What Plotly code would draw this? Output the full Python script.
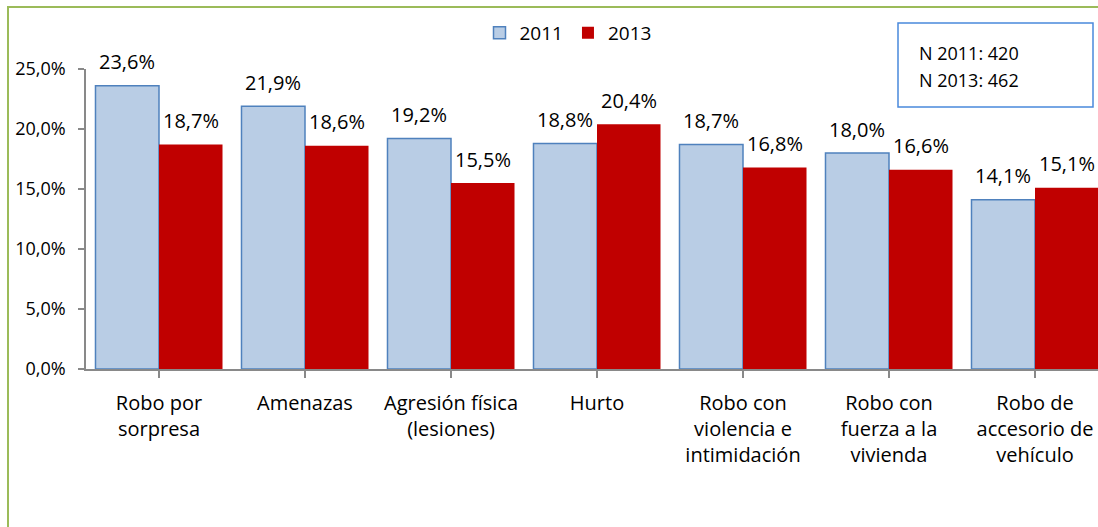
import plotly.graph_objects as go

categories = ["Robo por<br>sorpresa", "Amenazas", "Agresión física<br>(lesiones)", "Hurto",
              "Robo con<br>violencia e<br>intimidación", "Robo con<br>fuerza a la<br>vivienda",
              "Robo de<br>accesorio de<br>vehículo"]
values_2011 = [23.6, 21.9, 19.2, 18.8, 18.7, 18.0, 14.1]
values_2013 = [18.7, 18.6, 15.5, 20.4, 16.8, 16.6, 15.1]
n_text = ["N 2011: 420", "N 2013: 462"]

FONT = "Open Sans"
W, H = 1098, 527
ML, MT, MB = 86, 69, 158
PW = W - ML
PH = H - MT - MB
CAT_PX = 146  # pixel width of one category slot


def px_x(px):
    return (px - ML) / PW


def px_y(py):
    return (H - MB - py) / PH


fig = go.Figure()

fig.add_trace(go.Bar(
    x=list(range(len(categories))), y=values_2011, name="2011",
    marker=dict(color="#b9cde5", line=dict(color="#4f81bd", width=1.5)),
))
fig.add_trace(go.Bar(
    x=list(range(len(categories))), y=values_2013, name="2013",
    marker=dict(color="#c00000", line=dict(width=0)),
))

# data labels above each bar
annotations = []
for vals, shift in ((values_2011, -32), (values_2013, 32)):
    for i, v in enumerate(vals):
        annotations.append(dict(
            x=i, y=v, xref="x", yref="y", text=f"{v:.1f}".replace(".", ",") + "%",
            showarrow=False, xshift=shift, yshift=24, yanchor="middle",
            font=dict(family=FONT, size=20, color="#000000"),
        ))

# N box text
for txt, ypx in zip(n_text, (53, 80)):
    annotations.append(dict(x=px_x(917), y=px_y(ypx), xref="paper", yref="paper", text=txt,
                            showarrow=False, xanchor="left", yanchor="middle",
                            font=dict(family=FONT, size=18, color="#000000")))

shapes = [
    # outer green frame
    dict(type="rect", xref="paper", yref="paper", x0=px_x(8), x1=1.2, y0=-0.6, y1=px_y(7),
         line=dict(color="#9bbb59", width=2), fillcolor="rgba(0,0,0,0)", layer="below"),
    # N box
    dict(type="rect", xref="paper", yref="paper", x0=px_x(898), x1=px_x(1093), y0=px_y(107), y1=px_y(23),
         line=dict(color="#4a89dc", width=1.5), fillcolor="white", layer="above"),
]

fig.update_layout(
    width=W, height=H,
    margin=dict(l=ML, r=0, t=MT, b=MB, autoexpand=False),
    paper_bgcolor="white", plot_bgcolor="white",
    separators=",.",
    barmode="group", bargap=0.13, bargroupgap=0,
    font=dict(family=FONT, size=20, color="#000000"),
    showlegend=True,
    legend=dict(orientation="h", x=px_x(568), xanchor="center", y=px_y(33), yanchor="middle",
                font=dict(family=FONT, size=19), bgcolor="rgba(0,0,0,0)", traceorder="normal"),
    annotations=annotations,
    shapes=shapes,
)

fig.update_xaxes(
    tickmode="array", tickvals=list(range(len(categories))), ticktext=categories,
    range=[-0.5, -0.5 + PW / CAT_PX],
    tickson="boundaries", ticks="outside", ticklen=7, tickcolor="#898989", tickwidth=1.5,
    showline=True, linecolor="#898989", linewidth=1.5, showgrid=False, zeroline=False,
    tickfont=dict(family=FONT, size=20, color="#000000"), tickangle=0, ticklabelstandoff=8,
)
fig.update_yaxes(
    range=[0, 25], dtick=5, tickformat=".1f", ticksuffix="%",
    ticks="outside", ticklen=6, tickcolor="#898989", tickwidth=1.5,
    showline=True, linecolor="#898989", linewidth=1.5, showgrid=False, zeroline=False,
    tickfont=dict(family=FONT, size=18, color="#000000"), ticklabelstandoff=9,
)

# drop the default page margin so the figure sits flush in the window
fig.write_html("out.html", config={"displayModeBar": False},
               post_script="document.body.style.margin='0';")
